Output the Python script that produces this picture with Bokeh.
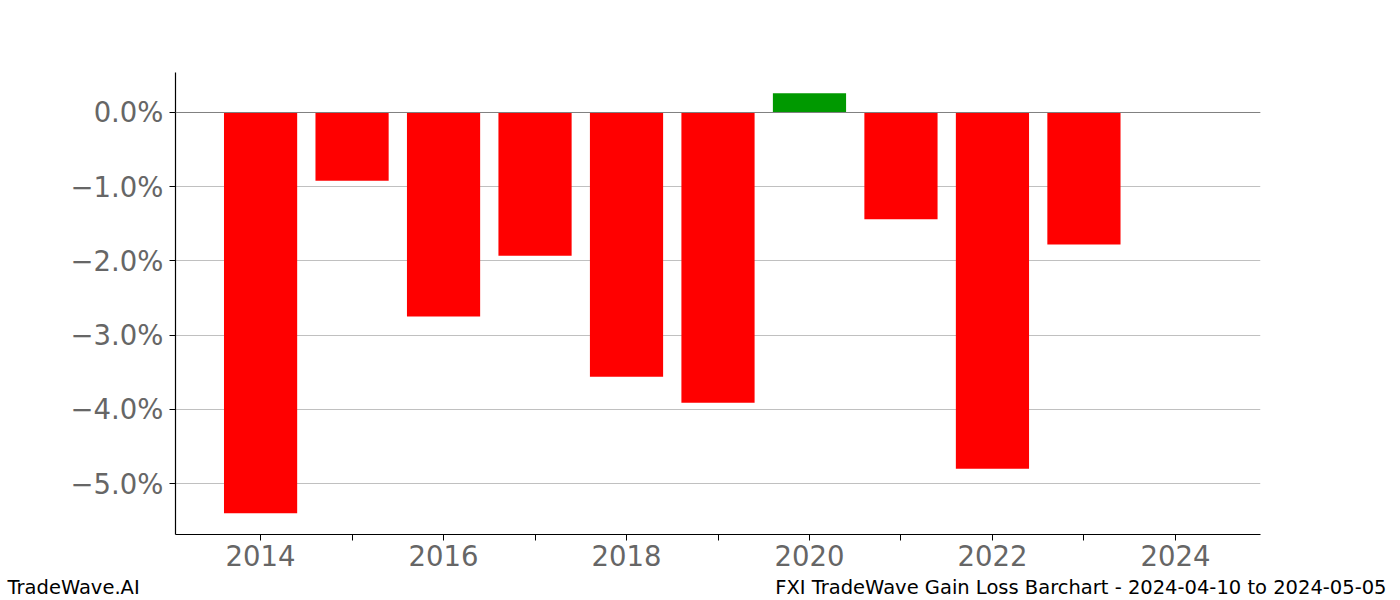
from bokeh.plotting import figure
from bokeh.models import FixedTicker, Span, ColumnDataSource
from bokeh.layouts import column
from bokeh.core.properties import value
from bokeh.embed import file_html
from bokeh.resources import INLINE

years = [2014, 2015, 2016, 2017, 2018, 2019, 2020, 2021, 2022, 2023]
gains = [-5.40, -0.92, -2.75, -1.93, -3.56, -3.91, 0.26, -1.44, -4.80, -1.78]
colors = ["#ff0000" if g < 0 else "#009900" for g in gains]
x_ticks = [2014, 2016, 2018, 2020, 2022, 2024]
y_ticks = [0, -1, -2, -3, -4, -5]
y_labels = {0: "0.0%", -1: "\u22121.0%", -2: "\u22122.0%", -3: "\u22123.0%", -4: "\u22124.0%", -5: "\u22125.0%"}
footer_left = "TradeWave.AI"
footer_right = "FXI TradeWave Gain Loss Barchart - 2024-04-10 to 2024-05-05"

src = ColumnDataSource(dict(x=years, top=gains, color=colors))

p = figure(width=1400, height=572, output_backend="svg", toolbar_location=None,
           x_range=(2013.07, 2024.93), y_range=(-5.687, 0.539),
           min_border_left=175, min_border_right=140, min_border_top=72, min_border_bottom=38)
p.outline_line_color = None
p.background_fill_color = "white"
p.border_fill_color = "white"

p.vbar(x="x", top="top", bottom=0, width=0.8, color="color", source=src, line_color=None)
p.add_layout(Span(location=0, dimension="width", line_color="#808080", line_width=1))

p.xgrid.grid_line_color = None
p.ygrid.grid_line_color = "#c0c0c0"
p.ygrid.grid_line_width = 1
p.ygrid.ticker = FixedTicker(ticks=y_ticks)

for ax in (p.xaxis[0], p.yaxis[0]):
    ax.axis_line_color = "black"
    ax.axis_line_width = 1.2
    ax.major_tick_line_color = "black"
    ax.minor_tick_line_color = "black"
    ax.major_tick_out = 6
    ax.major_tick_in = 0
    ax.minor_tick_in = 0
    ax.major_label_text_color = "#666666"
    ax.major_label_text_font = "DejaVu Sans"
    ax.major_label_text_font_size = "27.5px"

p.xaxis.ticker = FixedTicker(ticks=x_ticks, minor_ticks=[2015, 2017, 2019, 2021, 2023])
p.xaxis.minor_tick_out = 6
p.xaxis.major_label_standoff = 4
p.yaxis.ticker = FixedTicker(ticks=y_ticks, minor_ticks=[])
p.yaxis.minor_tick_out = 0
p.yaxis.major_label_overrides = y_labels
p.yaxis.major_label_standoff = 6

f = figure(width=1400, height=28, output_backend="svg", toolbar_location=None,
           x_range=(0, 1400), y_range=(0, 28), min_border=0,
           min_border_left=0, min_border_right=0, min_border_top=0, min_border_bottom=0)
f.axis.visible = False
f.grid.grid_line_color = None
f.outline_line_color = None
f.border_fill_color = "white"
f.text(x=[7], y=[13], text=[footer_left], text_baseline="alphabetic", text_align="left",
       text_font=value("DejaVu Sans"), text_font_size="19.5px", text_color="black")
f.text(x=[1386], y=[13], text=[footer_right], text_baseline="alphabetic", text_align="right",
       text_font=value("DejaVu Sans"), text_font_size="19.5px", text_color="black")

for fig in (p, f):
    if "frame_align" in fig.properties():
        fig.frame_align = False

open("out.html", "w").write(file_html(column(p, f, spacing=0), INLINE))
